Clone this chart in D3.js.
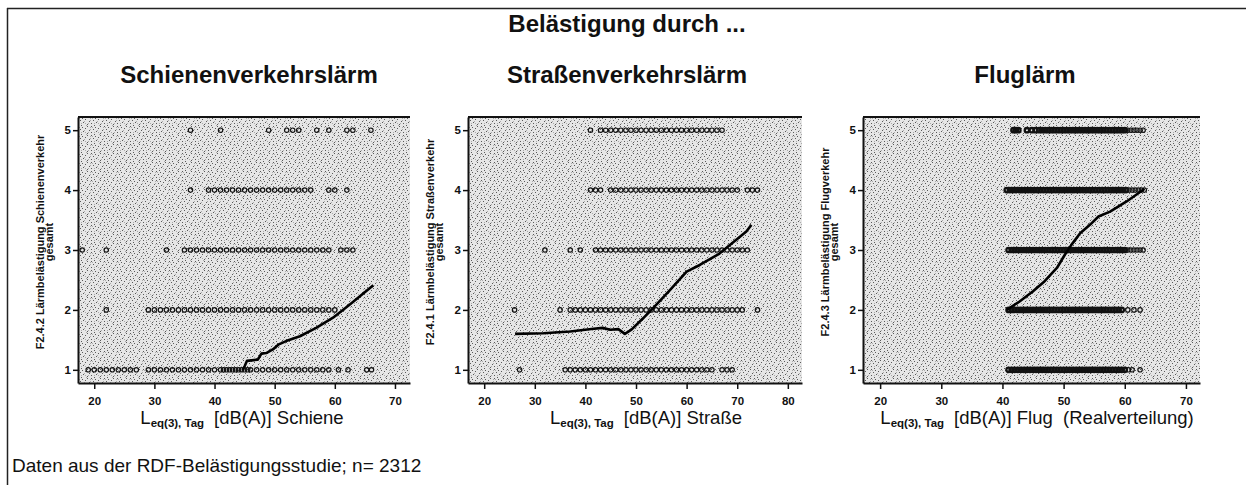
<!DOCTYPE html>
<html>
<head>
<meta charset="utf-8">
<script src="https://cdn.jsdelivr.net/npm/d3@7"></script>
<style>
  body { margin: 0; background: #fff; }
  svg { display: block; font-family: "Liberation Sans", Arial, Helvetica, sans-serif; }
  .tick text { font-size: 11.5px; font-weight: bold; fill: #111; }
</style>
</head>
<body>
<svg id="chart" width="1246" height="485"></svg>
<script>
// rating levels (y) shared by all three panels
var ratingLevels = [1, 2, 3, 4, 5];

// Schienenverkehrslaerm: dB values of the plotted points, one list per rating 1..5
var railRows = [
  [19, 20, 21, 22, 23, 24, 25, 26, 27, 29, 30, 31, 32, 33, 34, 35, 36, 37, 38, 39, 40, 41, 41.5, 42, 42.5, 43, 43.5, 44, 44.5, 45, 45.5,
   46, 47, 48, 49, 50, 51, 52, 53, 54, 55, 56, 57, 58, 59, 60.6, 62.2, 65.3, 66.1],
  [22, 29, 30, 31, 32, 33, 34, 35, 36, 37, 38, 39, 40, 41, 42, 43, 44, 45, 46, 47, 48, 49, 50, 51, 52, 53, 54, 55, 56, 57, 58, 59, 60],
  [18, 22, 32, 35, 36, 37, 38, 39, 40, 41, 42, 43, 44, 45, 46, 47, 48, 49, 50, 51, 52, 53, 54, 55, 56, 57, 58, 59, 61, 62, 63],
  [36, 39, 40, 41, 42, 43, 44, 45, 46, 47, 48, 49, 50, 51, 52, 53, 54, 55, 56, 59, 60, 62],
  [36, 41, 49, 52, 53, 54, 57, 59, 62, 63, 66]
];
var railCurveX = [44.7, 45.0, 45.4, 47.2, 47.8, 48.6, 49.7, 50.6, 51.9, 54.2, 56.9, 59.7, 62.5, 66.4];
var railCurveY = [1.0, 1.06, 1.15, 1.17, 1.27, 1.28, 1.34, 1.42, 1.48, 1.56, 1.70, 1.87, 2.09, 2.41];
var railTicks = [20, 30, 40, 50, 60, 70];

// Strassenverkehrslaerm
var roadRows = [
  [27, 36, 37, 38, 39, 40, 41, 42, 43, 44, 45, 46, 47, 48, 49, 50, 51, 52, 53, 54, 55, 56, 57, 58, 59, 60, 61, 62, 63, 64, 65, 67, 68, 69],
  [26, 35, 37, 38, 39, 40, 41, 42, 43, 44, 45, 46, 47, 48, 49, 50, 51, 52, 53, 54, 55, 56, 57, 58, 59, 60, 61, 62, 63, 64, 65, 66, 67, 68, 69, 70, 71, 74],
  [32, 37, 39, 42, 43, 44, 45, 46, 47, 48, 49, 50, 51, 52, 53, 54, 55, 56, 57, 58, 59, 60, 61, 62, 63, 64, 65, 66, 67, 68, 69, 70, 71, 72],
  [41, 42, 43, 45, 46, 47, 48, 49, 50, 51, 52, 53, 54, 55, 56, 57, 58, 59, 60, 61, 62, 63, 64, 65, 66, 67, 68, 69, 70, 72, 73, 74],
  [41, 43, 44, 45, 46, 47, 48, 49, 50, 51, 52, 53, 54, 55, 56, 57, 58, 59, 60, 61, 62, 63, 64, 65, 66, 67]
];
var roadCurveX = [26.1, 31.7, 37.0, 41.2, 43.4, 44.9, 46.5, 47.8, 49.1, 51.4, 53.7, 56.7, 60.0, 62.6, 66.5, 71.8, 72.8];
var roadCurveY = [1.60, 1.61, 1.64, 1.68, 1.70, 1.67, 1.68, 1.60, 1.67, 1.86, 2.06, 2.33, 2.64, 2.75, 2.94, 3.31, 3.42];
var roadTicks = [20, 30, 40, 50, 60, 70, 80];

// Fluglaerm (Realverteilung) - dense rows
var flightRows = [
  [41, 41.5, 42, 42.5, 43, 43.5, 44, 44.5, 45, 45.5, 46, 46.5, 47, 47.5, 48, 48.5, 49, 49.5, 50, 50.5, 51, 51.5, 52, 52.5,
   53, 53.5, 54, 54.5, 55, 55.5, 56, 56.5, 57, 57.5, 58, 58.5, 59, 59.5, 60, 60.6, 61.2, 62.5],
  [41, 41.5, 42, 42.5, 43, 43.5, 44, 44.5, 45, 45.5, 46, 46.5, 47, 47.5, 48, 48.5, 49, 49.5, 50, 50.5, 51, 51.5, 52, 52.5,
   53, 53.5, 54, 54.5, 55, 55.5, 56, 56.5, 57, 57.5, 58, 58.5, 59, 59.5, 60.5, 61.5, 62.5],
  [41, 41.5, 42, 42.5, 43, 43.5, 44, 44.5, 45, 45.5, 46, 46.5, 47, 47.5, 48, 48.5, 49, 49.5, 50, 50.5, 51, 51.5, 52, 52.5,
   53, 53.5, 54, 54.5, 55, 55.5, 56, 56.5, 57, 57.5, 58, 58.5, 59, 59.5, 60, 60.5, 61, 61.5, 62, 62.5, 63],
  [40.7, 41.2, 41.7, 42.2, 42.7, 43.2, 43.7, 44.2, 44.7, 45.2, 45.7, 46.2, 46.7, 47.2, 47.7, 48.2, 48.7, 49.2, 49.7, 50.2,
   50.7, 51.2, 51.7, 52.2, 52.7, 53.2, 53.7, 54.2, 54.7, 55.2, 55.7, 56.2, 56.7, 57.2, 57.7, 58.2, 58.7, 59.2, 59.7, 60.2,
   60.7, 61.2, 61.7, 62.2, 62.7, 63.2],
  [41.8, 42.2, 42.6, 44, 44.8, 45.4, 46, 46.5, 47, 47.5, 48, 48.5, 49, 49.5, 50, 50.5, 51, 51.5, 52, 52.5, 53, 53.5, 54,
   54.5, 55, 55.5, 56, 56.5, 57, 57.5, 58, 58.5, 59, 59.5, 60, 60.5, 61, 61.5, 62, 62.5, 63]
];
var flightCurveX = [40.7, 42.8, 45.0, 46.9, 48.9, 50.2, 51.3, 52.7, 54.3, 55.7, 57.6, 60.3, 62.8, 63.2];
var flightCurveY = [2.0, 2.14, 2.31, 2.48, 2.70, 2.92, 3.09, 3.28, 3.42, 3.56, 3.64, 3.81, 3.99, 4.02];
var flightTicks = [20, 30, 40, 50, 60, 70];

var plotTop = 117;
var plotBottom = 383;
var yDomain = [0.78, 5.22];

var panels = [
  { title: 'Schienenverkehrslärm', titleX: 249, left: 78, right: 410, xDomain: [17.3, 72.5],
    rows: railRows, cx: railCurveX, cy: railCurveY, ticks: railTicks, ptStroke: 1.2, denseAfter: 99,
    yLab: 'F2.4.2 Lärmbelästigung Schienenverkehr', xTail: 'Schiene', xLabX: 242 },
  { title: 'Straßenverkehrslärm', titleX: 627, left: 468, right: 802, xDomain: [16.8, 82.8],
    rows: roadRows, cx: roadCurveX, cy: roadCurveY, ticks: roadTicks, ptStroke: 1.2, denseAfter: 99,
    yLab: 'F2.4.1 Lärmbelästigung Straßenverkehr', xTail: 'Straße', xLabX: 646 },
  { title: 'Fluglärm', titleX: 1025, left: 863, right: 1200, xDomain: [17.2, 72.3],
    rows: flightRows, cx: flightCurveX, cy: flightCurveY, ticks: flightTicks, ptStroke: 2.3, denseAfter: 60.2,
    yLab: 'F2.4.3 Lärmbelästigung Flugverkehr', xTail: 'Flug  (Realverteilung)', xLabX: 1037 }
];

var svg = d3.select('#chart');

// stipple texture of the scanned plot background
var defs = svg.append('defs');
var pat = defs.append('pattern')
    .attr('id', 'stipple')
    .attr('width', 13)
    .attr('height', 9)
    .attr('patternUnits', 'userSpaceOnUse');
pat.append('rect').attr('width', 13).attr('height', 9).attr('fill', '#e6e6e6');
[[0, 0], [4, 1], [9, 0], [2, 3], [7, 2], [11, 4], [5, 5], [0, 6], [9, 7], [3, 8]].forEach(function(p){
  pat.append('rect').attr('x', p[0]).attr('y', p[1]).attr('width', 1).attr('height', 1).attr('fill', '#5a5a5a');
});
[[1, 1], [6, 4], [10, 6], [3, 6], [8, 8], [12, 3], [12, 1], [7, 6]].forEach(function(p){
  pat.append('rect').attr('x', p[0]).attr('y', p[1]).attr('width', 1).attr('height', 1).attr('fill', '#ababab');
});

// outer frame (top and left edge of the scan)
svg.append('line').attr('x1', 7).attr('x2', 1246).attr('y1', 8.5).attr('y2', 8.5)
    .attr('stroke', '#222').attr('stroke-width', 1.5);
svg.append('line').attr('x1', 7.5).attr('x2', 7.5).attr('y1', 8).attr('y2', 485)
    .attr('stroke', '#222').attr('stroke-width', 1.5);

svg.append('text')
    .attr('x', 627)
    .attr('y', 32)
    .attr('text-anchor', 'middle')
    .attr('font-size', 24)
    .attr('font-weight', 'bold')
    .attr('fill', '#111')
    .text('Belästigung durch ...');

svg.append('text')
    .attr('x', 12)
    .attr('y', 472)
    .attr('font-size', 19)
    .attr('fill', '#111')
    .text('Daten aus der RDF-Belästigungsstudie; n= 2312');

panels.forEach(drawPanel);

function drawPanel(p){
  var x = d3.scaleLinear().domain(p.xDomain).range([p.left, p.right]);
  var y = d3.scaleLinear().domain(yDomain).range([plotBottom, plotTop]);

  svg.append('text')
      .attr('x', p.titleX)
      .attr('y', 83)
      .attr('text-anchor', 'middle')
      .attr('font-size', 24)
      .attr('font-weight', 'bold')
      .attr('fill', '#111')
      .text(p.title);

  svg.append('rect')
      .attr('x', p.left)
      .attr('y', plotTop)
      .attr('width', p.right - p.left)
      .attr('height', plotBottom - plotTop)
      .attr('fill', 'url(#stipple)');

  svg.append('line')
      .attr('x1', p.left).attr('x2', p.right)
      .attr('y1', plotTop).attr('y2', plotTop)
      .attr('stroke', '#111').attr('stroke-width', 2);

  var pts = [];
  p.rows.forEach(function(row, i){
    row.forEach(function(v){ pts.push({ x: v, y: ratingLevels[i] }); });
  });

  svg.append('g')
    .selectAll('circle')
    .data(pts)
    .join('circle')
      .attr('cx', d => x(d.x))
      .attr('cy', d => y(d.y))
      .attr('r', 2.2)
      .attr('fill', 'none')
      .attr('stroke', '#111')
      .attr('stroke-width', d => d.x > p.denseAfter ? 1.2 : p.ptStroke);

  svg.append('path')
      .datum(d3.zip(p.cx, p.cy))
      .attr('d', d3.line().x(d => x(d[0])).y(d => y(d[1])))
      .attr('fill', 'none')
      .attr('stroke', '#000')
      .attr('stroke-width', 2.6)
      .attr('stroke-linejoin', 'round');

  var xAxis = svg.append('g')
      .attr('transform', 'translate(0,' + plotBottom + ')')
      .call(d3.axisBottom(x).tickValues(p.ticks).tickSize(6).tickSizeOuter(0).tickPadding(8));
  var yAxis = svg.append('g')
      .attr('transform', 'translate(' + p.left + ',0)')
      .call(d3.axisLeft(y).tickValues(ratingLevels).tickFormat(d3.format('d'))
        .tickSize(5).tickSizeOuter(0).tickPadding(2));
  [xAxis, yAxis].forEach(function(a){
    a.select('.domain').attr('stroke', '#111').attr('stroke-width', 2);
    a.selectAll('.tick line').attr('stroke', '#111').attr('stroke-width', 1.5);
  });

  // y label, two lines
  var yl = svg.append('text')
      .attr('transform', 'translate(' + (p.left - 34) + ',242) rotate(-90)')
      .attr('text-anchor', 'middle')
      .attr('font-size', 11)
      .attr('font-weight', 'bold')
      .attr('fill', '#111');
  yl.append('tspan').attr('x', 0).attr('y', 0).text(p.yLab);
  yl.append('tspan').attr('x', 0).attr('y', 8.5).text('gesamt');

  // x label with subscript
  var xl = svg.append('text')
      .attr('x', p.xLabX)
      .attr('y', 424)
      .attr('text-anchor', 'middle')
      .attr('font-size', 18.5)
      .attr('fill', '#111')
      .style('white-space', 'pre');
  xl.append('tspan').text('L');
  xl.append('tspan').attr('font-size', 11.5).attr('font-weight', 'bold').attr('dy', 3).text('eq(3), Tag');
  xl.append('tspan').attr('dy', -3).attr('dx', 10).text('[dB(A)] ' + p.xTail);
}
</script>
</body>
</html>
